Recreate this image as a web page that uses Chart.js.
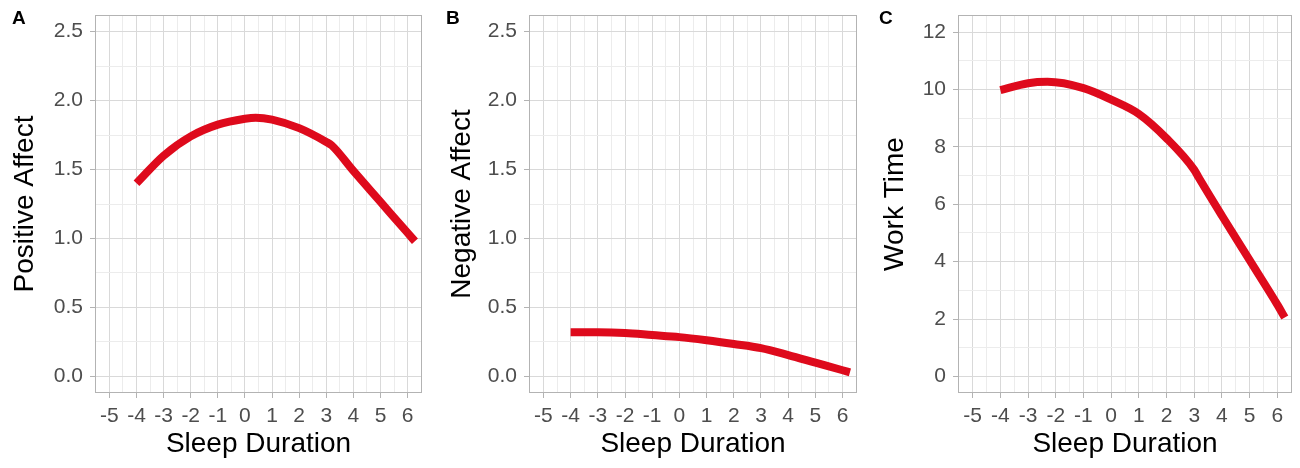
<!DOCTYPE html>
<html>
<head>
<meta charset="utf-8">
<script src="https://cdn.jsdelivr.net/npm/chart.js@4.4.1/dist/chart.umd.min.js"></script>
<style>
  body { margin: 0; background: #fff; width: 1300px; height: 468px; position: relative; overflow: hidden;
         font-family: "Liberation Sans", Arial, sans-serif; }
  .panel { position: absolute; top: 0; height: 468px; }
  .tag { position: absolute; top: 8px; font-weight: bold; font-size: 19px; line-height: 1; color: #000; }
</style>
</head>
<body>
<div class="panel" style="left:0;width:437px"><canvas id="chartA"></canvas></div>
<div class="panel" style="left:437px;width:433px"><canvas id="chartB"></canvas></div>
<div class="panel" style="left:870px;width:430px"><canvas id="chartC"></canvas></div>
<div class="tag" style="left:12px">A</div>
<div class="tag" style="left:446px">B</div>
<div class="tag" style="left:879px">C</div>

<script>
// values
const sleepA = [-4, -3, -2, -1, 0, 0.4, 1, 2, 3, 3.2, 4, 5, 6, 6.27];
const positiveAffect = [1.40, 1.60, 1.74, 1.825, 1.868, 1.876, 1.862, 1.80, 1.70, 1.675, 1.49, 1.265, 1.04, 0.98];

const sleepB = [-4, -3, -2, -1, 0, 1, 2, 3, 4, 5, 6, 6.27];
const negativeAffect = [0.32, 0.32, 0.315, 0.30, 0.285, 0.262, 0.235, 0.205, 0.155, 0.10, 0.045, 0.03];

const sleepC = [-4, -3, -2.3, -1, 0, 1, 2, 3, 3.15, 4, 5, 6, 6.27];
const workTime = [9.98, 10.22, 10.27, 10.05, 9.65, 9.15, 8.3, 7.2, 6.95, 5.6, 4.05, 2.5, 2.05];

const sleepTicks = [-5, -4, -3, -2, -1, 0, 1, 2, 3, 4, 5, 6];
const affectTicks = [0, 0.5, 1, 1.5, 2, 2.5];
const workTicks = [0, 2, 4, 6, 8, 10, 12];

const lineRed = '#de0a1c';
const majorGrid = '#d9d9d9';
const minorGrid = '#ececec';
const tickGray = '#b3b3b3';
const labelGray = '#4d4d4d';

function isMajor(list, v) {
    return list.some(t => Math.abs(t - v) < 1e-6);
}

// ggplot-like box round the panel
const panelBorder = {
    id: 'panelBorder',
    afterDraw(chart) {
        const { ctx, chartArea: a } = chart;
        ctx.save();
        ctx.strokeStyle = tickGray;
        ctx.lineWidth = 1;
        ctx.strokeRect(Math.round(a.left) + 0.5, Math.round(a.top) + 0.5,
                       Math.round(a.width) - 1, Math.round(a.height) - 1);
        ctx.restore();
    }
};

function makePanel(id, xs, ys, cfg) {
    new Chart(document.getElementById(id), {
        type: 'line',
        data: {
            datasets: [{
                data: xs.map((x, i) => ({ x: x, y: ys[i] })),
                borderColor: lineRed,
                borderWidth: 8,
                borderCapStyle: 'butt',
                borderJoinStyle: 'round',
                pointRadius: 0,
                cubicInterpolationMode: 'monotone',
                fill: false
            }]
        },
        options: {
            responsive: true,
            maintainAspectRatio: false,
            animation: false,
            layout: { padding: { top: 15, right: cfg.padRight, left: 0, bottom: 0 } },
            plugins: { legend: { display: false }, tooltip: { enabled: false } },
            scales: {
                x: {
                    type: 'linear',
                    min: -5.53,
                    max: 6.53,
                    afterFit: s => { s.height = 75; s.paddingLeft = 0; s.paddingRight = 0; },
                    border: { display: false },
                    grid: {
                        color: c => isMajor(sleepTicks, c.tick.value) ? majorGrid : minorGrid,
                        tickColor: c => isMajor(sleepTicks, c.tick.value) ? tickGray : 'rgba(0,0,0,0)',
                        tickLength: 5
                    },
                    ticks: {
                        stepSize: 0.5,
                        includeBounds: false,
                        autoSkip: false,
                        maxRotation: 0,
                        padding: 6,
                        color: labelGray,
                        font: { family: 'Liberation Sans', size: 21 },
                        callback: v => isMajor(sleepTicks, v) ? String(v) : ''
                    },
                    title: {
                        display: true,
                        text: 'Sleep Duration',
                        color: '#000',
                        font: { family: 'Liberation Sans', size: 28 },
                        padding: { top: 0, bottom: 7 }
                    }
                },
                y: {
                    min: cfg.yMin,
                    max: cfg.yMax,
                    afterFit: s => { s.width = cfg.yWidth; s.paddingTop = 0; s.paddingBottom = 0; },
                    border: { display: false },
                    grid: {
                        color: c => isMajor(cfg.yTicks, c.tick.value) ? majorGrid : minorGrid,
                        tickColor: c => isMajor(cfg.yTicks, c.tick.value) ? tickGray : 'rgba(0,0,0,0)',
                        tickLength: 5
                    },
                    ticks: {
                        stepSize: cfg.yStep,
                        includeBounds: false,
                        autoSkip: false,
                        padding: 7,
                        color: labelGray,
                        font: { family: 'Liberation Sans', size: 21 },
                        callback: v => isMajor(cfg.yTicks, v) ? v.toFixed(cfg.digits) : ''
                    },
                    title: {
                        display: true,
                        text: cfg.yTitle,
                        color: '#000',
                        font: { family: 'Liberation Sans', size: 28 },
                        padding: { top: 8, bottom: 0 }
                    }
                }
            }
        },
        plugins: [panelBorder]
    });
}

makePanel('chartA', sleepA, positiveAffect, {
    yTitle: 'Positive Affect', yMin: -0.12, yMax: 2.62, yStep: 0.25,
    yTicks: affectTicks, digits: 1, yWidth: 95, padRight: 15
});
makePanel('chartB', sleepB, negativeAffect, {
    yTitle: 'Negative Affect', yMin: -0.12, yMax: 2.62, yStep: 0.25,
    yTicks: affectTicks, digits: 1, yWidth: 92, padRight: 13
});
makePanel('chartC', sleepC, workTime, {
    yTitle: 'Work Time', yMin: -0.58, yMax: 12.6, yStep: 1,
    yTicks: workTicks, digits: 0, yWidth: 88, padRight: 8
});
</script>
</body>
</html>
